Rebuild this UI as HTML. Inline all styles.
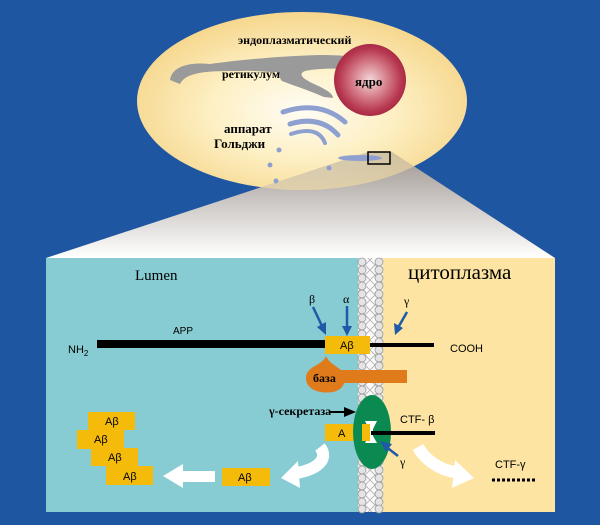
<!DOCTYPE html>
<html><head><meta charset="utf-8"><style>
html,body{margin:0;padding:0;background:#1f56a2}
svg{display:block}
.s{font-family:"Liberation Serif",serif}
.a{font-family:"Liberation Sans",sans-serif}
</style></head><body>
<svg width="600" height="525" viewBox="0 0 600 525" xmlns="http://www.w3.org/2000/svg">
<defs>
<radialGradient id="eg" cx="0.5" cy="0.55" r="0.55">
<stop offset="0" stop-color="#fffdf5"/><stop offset="0.5" stop-color="#fdf0c4"/><stop offset="1" stop-color="#f6d68c"/>
</radialGradient>
<radialGradient id="ng" cx="0.5" cy="0.5" r="0.5">
<stop offset="0" stop-color="#f4d8d8"/><stop offset="0.5" stop-color="#d47a88"/><stop offset="0.85" stop-color="#b83a52"/><stop offset="1" stop-color="#a82a44"/>
</radialGradient>
<linearGradient id="tg" x1="0" y1="0" x2="0" y2="1">
<stop offset="0" stop-color="#9e9690"/><stop offset="1" stop-color="#ffffff"/>
</linearGradient>
<clipPath id="ec"><ellipse cx="302" cy="101" rx="165" ry="89"/></clipPath>
<pattern id="mp" width="10" height="10" patternUnits="userSpaceOnUse">
<path d="M0 0L10 10M10 0L0 10" stroke="#b0b0b0" stroke-width="0.8"/>
</pattern>
</defs>
<rect width="600" height="525" fill="#1f56a2"/>
<polygon points="368,152 392,152 555,258 46,258" fill="url(#tg)"/>
<ellipse cx="302" cy="101" rx="165" ry="89" fill="url(#eg)"/>
<polygon points="368,152 392,152 555,258 46,258" fill="url(#tg)" opacity="0.45" clip-path="url(#ec)"/>
<!-- ER -->
<path d="M170 80 C172 66 190 62 210 64 C240 60 280 56 320 55 C345 55 362 57 372 62 L362 70 C340 68 318 68 305 71 C298 74 302 78 312 83 C325 89 333 93 333 98 L324 97 C308 90 292 85 282 81 C278 77 282 72 274 72 C262 72 252 70 240 71 C222 71 205 71 195 74 C186 76 182 80 180 84 Z" fill="#9a9a9a"/>
<circle cx="370" cy="80" r="36" fill="url(#ng)"/>
<text x="238" y="44" class="s" font-size="12" font-weight="bold">эндоплазматический</text>
<text x="222" y="78" class="s" font-size="12" font-weight="bold">ретикулум</text>
<text x="355" y="86" class="s" font-size="13" font-weight="bold">ядро</text>
<!-- golgi -->
<path d="M283 112 Q320 100 345 122" stroke="#8ea0d0" stroke-width="5" fill="none" stroke-linecap="round"/>
<path d="M290 124 Q320 115 338 135" stroke="#8ea0d0" stroke-width="5" fill="none" stroke-linecap="round"/>
<path d="M291 134 Q318 125 325 143" stroke="#8ea0d0" stroke-width="4" fill="none" stroke-linecap="round"/>
<circle cx="279" cy="150" r="2.5" fill="#8ea0d0"/><circle cx="270" cy="165" r="2.5" fill="#8ea0d0"/><circle cx="329" cy="168" r="2.5" fill="#8ea0d0"/><circle cx="276" cy="181" r="2.5" fill="#8ea0d0"/>
<ellipse cx="360" cy="158" rx="22" ry="3" fill="#8ea0d0"/>
<text x="224" y="133" class="s" font-size="13" font-weight="bold">аппарат</text>
<text x="214" y="148" class="s" font-size="13" font-weight="bold">Гольджи</text>
<rect x="368" y="152" width="22" height="12" fill="none" stroke="#000" stroke-width="1.5"/>
<!-- panel -->
<rect x="46" y="258" width="312" height="254" fill="#87ccd2"/>
<rect x="383" y="258" width="172" height="254" fill="#fde4a2"/>
<rect x="358" y="258" width="25" height="254" fill="#fafafa"/>
<rect x="358" y="258" width="25" height="254" fill="url(#mp)"/>
<g fill="#e4e4e4" stroke="#9a9a9a" stroke-width="0.8">
<circle cx="362" cy="262" r="4"/><circle cx="379" cy="262" r="4"/><circle cx="362" cy="270" r="4"/><circle cx="379" cy="270" r="4"/><circle cx="362" cy="278" r="4"/><circle cx="379" cy="278" r="4"/><circle cx="362" cy="286" r="4"/><circle cx="379" cy="286" r="4"/><circle cx="362" cy="294" r="4"/><circle cx="379" cy="294" r="4"/><circle cx="362" cy="302" r="4"/><circle cx="379" cy="302" r="4"/><circle cx="362" cy="310" r="4"/><circle cx="379" cy="310" r="4"/><circle cx="362" cy="318" r="4"/><circle cx="379" cy="318" r="4"/><circle cx="362" cy="326" r="4"/><circle cx="379" cy="326" r="4"/><circle cx="362" cy="334" r="4"/><circle cx="379" cy="334" r="4"/><circle cx="362" cy="342" r="4"/><circle cx="379" cy="342" r="4"/><circle cx="362" cy="350" r="4"/><circle cx="379" cy="350" r="4"/><circle cx="362" cy="358" r="4"/><circle cx="379" cy="358" r="4"/><circle cx="362" cy="366" r="4"/><circle cx="379" cy="366" r="4"/><circle cx="362" cy="374" r="4"/><circle cx="379" cy="374" r="4"/><circle cx="362" cy="382" r="4"/><circle cx="379" cy="382" r="4"/><circle cx="362" cy="390" r="4"/><circle cx="379" cy="390" r="4"/><circle cx="362" cy="398" r="4"/><circle cx="379" cy="398" r="4"/><circle cx="362" cy="406" r="4"/><circle cx="379" cy="406" r="4"/><circle cx="362" cy="414" r="4"/><circle cx="379" cy="414" r="4"/><circle cx="362" cy="422" r="4"/><circle cx="379" cy="422" r="4"/><circle cx="362" cy="430" r="4"/><circle cx="379" cy="430" r="4"/><circle cx="362" cy="438" r="4"/><circle cx="379" cy="438" r="4"/><circle cx="362" cy="446" r="4"/><circle cx="379" cy="446" r="4"/><circle cx="362" cy="454" r="4"/><circle cx="379" cy="454" r="4"/><circle cx="362" cy="462" r="4"/><circle cx="379" cy="462" r="4"/><circle cx="362" cy="470" r="4"/><circle cx="379" cy="470" r="4"/><circle cx="362" cy="478" r="4"/><circle cx="379" cy="478" r="4"/><circle cx="362" cy="486" r="4"/><circle cx="379" cy="486" r="4"/><circle cx="362" cy="494" r="4"/><circle cx="379" cy="494" r="4"/><circle cx="362" cy="502" r="4"/><circle cx="379" cy="502" r="4"/><circle cx="362" cy="509" r="4"/><circle cx="379" cy="509" r="4"/>
</g>
<text x="135" y="280" class="s" font-size="15">Lumen</text>
<text x="408" y="279" class="s" font-size="21">цитоплазма</text>
<!-- APP -->
<text x="68" y="353" class="a" font-size="11">NH<tspan font-size="8" dy="3">2</tspan></text>
<text x="173" y="334" class="a" font-size="10">APP</text>
<rect x="97" y="340" width="230" height="8" fill="#000"/>
<rect x="325" y="336" width="45" height="18" fill="#f5bb0a"/>
<text x="340" y="349" class="a" font-size="11">Aβ</text>
<rect x="370" y="343" width="64" height="4" fill="#000"/>
<text x="450" y="352" class="a" font-size="11">COOH</text>
<!-- blue arrows -->
<g stroke="#1e5aa8" stroke-width="2.5" fill="#1e5aa8">
<line x1="313" y1="307" x2="322" y2="326"/><polygon points="317,327 326,335 326,322" stroke="none"/>
<line x1="347" y1="306" x2="347" y2="326"/><polygon points="342,326 352,326 347,336" stroke="none"/>
<line x1="407" y1="312" x2="399" y2="326"/><polygon points="394,323 403,328 395,335" stroke="none"/>
</g>
<text x="309" y="303" class="s" font-size="12">β</text>
<text x="343" y="303" class="s" font-size="12">α</text>
<text x="404" y="305" class="s" font-size="12">γ</text>
<!-- baza -->
<path d="M326 356 C322 366 306 366 306 378 C306 390 320 394 333 392 C342 390 345 384 345 378 C345 368 330 366 326 356Z" fill="#e07b1c"/>
<rect x="340" y="370" width="67" height="13" fill="#e07b1c"/>
<text x="313" y="382" class="s" font-size="12" font-weight="bold">база</text>
<!-- gamma secretase -->
<rect x="325" y="424" width="37" height="17" fill="#f5bb0a"/>
<text x="338" y="437" class="a" font-size="11">A</text>
<ellipse cx="372" cy="432" rx="19" ry="37" fill="#0a8a50"/>
<polygon points="365,421 377,421 373,429 373,436 377,443 365,443 369,436 369,429" fill="#fff"/>
<rect x="362" y="424" width="8" height="17" fill="#f5bb0a"/>
<rect x="371" y="431" width="64" height="4" fill="#000"/>
<text x="400" y="423" class="a" font-size="11">CTF- β</text>
<text x="269" y="415" class="s" font-size="12" font-weight="bold">γ-секретаза</text>
<line x1="330" y1="412" x2="346" y2="412" stroke="#000" stroke-width="2"/>
<polygon points="344,407 356,412 344,417" fill="#000"/>
<line x1="398" y1="456" x2="385" y2="446" stroke="#1e5aa8" stroke-width="2.5"/>
<polygon points="380,441 392,444 386,452" fill="#1e5aa8"/>
<text x="400" y="466" class="s" font-size="12">γ</text>
<!-- white curved arrows -->
<path d="M320 447 C330 460 315 470 296 473" stroke="#fff" stroke-width="12" fill="none"/>
<polygon points="298,461 281,478 300,488" fill="#fff"/>
<path d="M418 447 C425 460 440 470 455 472" stroke="#fff" stroke-width="12" fill="none"/>
<polygon points="455,460 474,478 452,488" fill="#fff"/>
<!-- lumen products -->
<rect x="222" y="468" width="48" height="18" fill="#f5bb0a"/>
<text x="238" y="481" class="a" font-size="11">Aβ</text>
<rect x="180" y="471" width="35" height="11" fill="#fff"/>
<polygon points="183,464 163,476 183,488" fill="#fff"/>
<rect x="88" y="412" width="47" height="18" fill="#f5bb0a"/>
<rect x="77" y="430" width="47" height="19" fill="#f5bb0a"/>
<rect x="91" y="448" width="47" height="18" fill="#f5bb0a"/>
<rect x="106" y="466" width="47" height="19" fill="#f5bb0a"/>
<text x="105" y="425" class="a" font-size="11">Aβ</text>
<text x="94" y="443" class="a" font-size="11">Aβ</text>
<text x="108" y="461" class="a" font-size="11">Aβ</text>
<text x="123" y="480" class="a" font-size="11">Aβ</text>
<text x="495" y="468" class="a" font-size="11">CTF-γ</text>
<line x1="492" y1="480" x2="535" y2="480" stroke="#000" stroke-width="3" stroke-dasharray="3,2"/>
</svg>
</body></html>
